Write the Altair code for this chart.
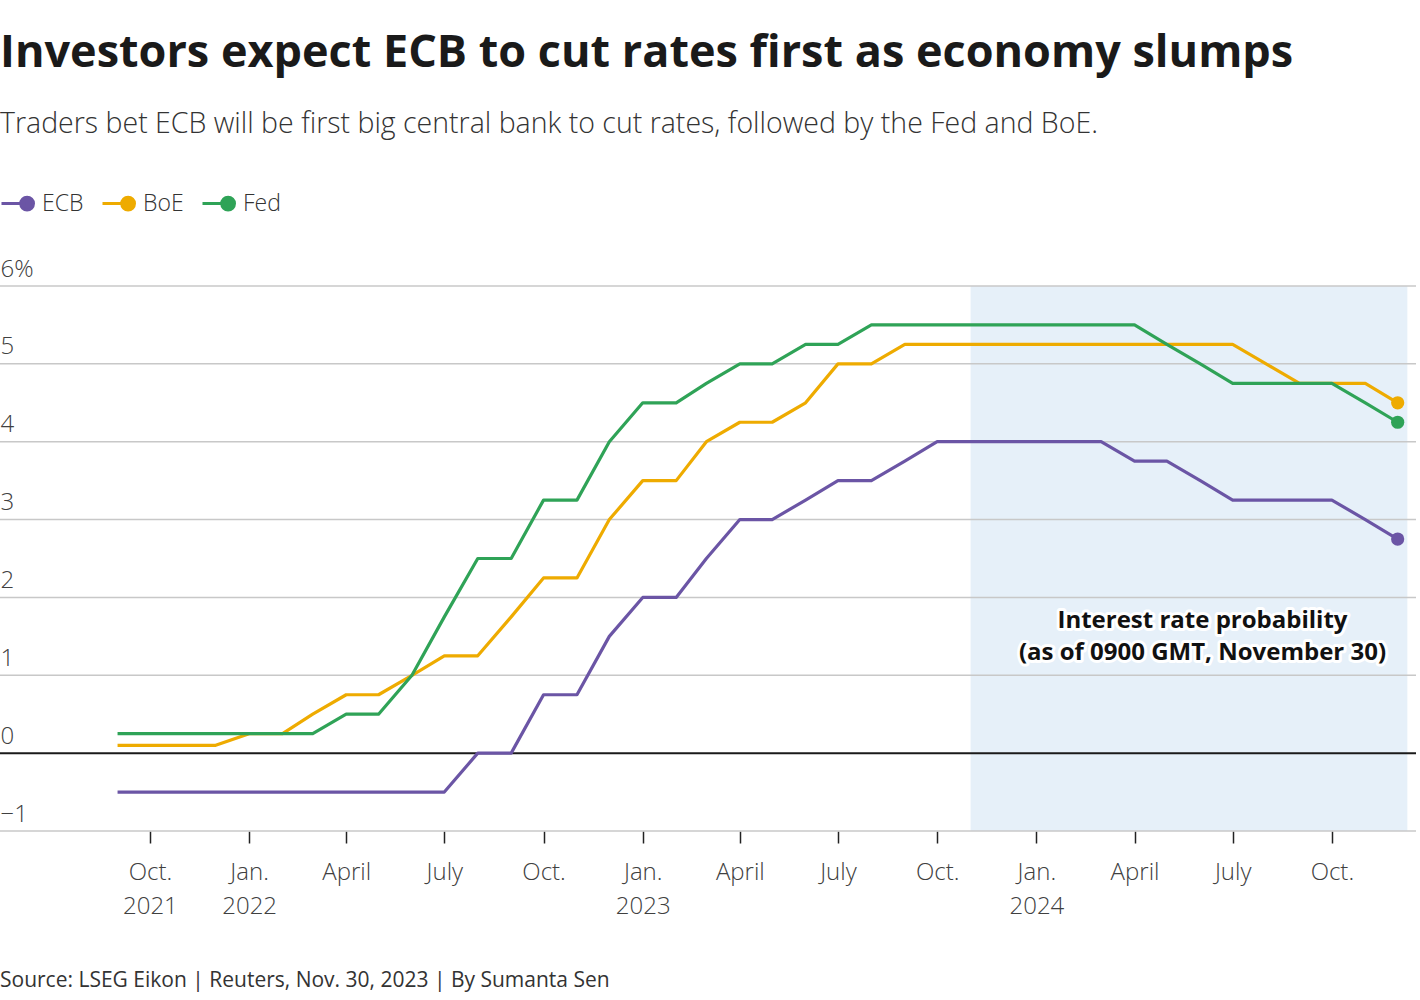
import altair as alt
import pandas as pd

# ---------------- data ----------------
months = [
    "2021-09-01", "2021-10-01", "2021-11-01", "2021-12-01",
    "2022-01-01", "2022-02-01", "2022-03-01", "2022-04-01", "2022-05-01", "2022-06-01",
    "2022-07-01", "2022-08-01", "2022-09-01", "2022-10-01", "2022-11-01", "2022-12-01",
    "2023-01-01", "2023-02-01", "2023-03-01", "2023-04-01", "2023-05-01", "2023-06-01",
    "2023-07-01", "2023-08-01", "2023-09-01", "2023-10-01", "2023-11-01", "2023-12-01",
    "2024-01-01", "2024-02-01", "2024-03-01", "2024-04-01", "2024-05-01", "2024-06-01",
    "2024-07-01", "2024-08-01", "2024-09-01", "2024-10-01", "2024-11-01", "2024-12-01",
]
ecb = [
    -0.5, -0.5, -0.5, -0.5,
    -0.5, -0.5, -0.5, -0.5, -0.5, -0.5,
    -0.5, 0.0, 0.0, 0.75, 0.75, 1.5,
    2.0, 2.0, 2.5, 3.0, 3.0, 3.25,
    3.5, 3.5, 3.75, 4.0, 4.0, 4.0,
    4.0, 4.0, 4.0, 3.75, 3.75, 3.5,
    3.25, 3.25, 3.25, 3.25, 3.0, 2.75,
]
boe = [
    0.1, 0.1, 0.1, 0.1,
    0.25, 0.25, 0.5, 0.75, 0.75, 1.0,
    1.25, 1.25, 1.75, 2.25, 2.25, 3.0,
    3.5, 3.5, 4.0, 4.25, 4.25, 4.5,
    5.0, 5.0, 5.25, 5.25, 5.25, 5.25,
    5.25, 5.25, 5.25, 5.25, 5.25, 5.25,
    5.25, 5.0, 4.75, 4.75, 4.75, 4.5,
]
fed = [
    0.25, 0.25, 0.25, 0.25,
    0.25, 0.25, 0.25, 0.5, 0.5, 1.0,
    1.75, 2.5, 2.5, 3.25, 3.25, 4.0,
    4.5, 4.5, 4.75, 5.0, 5.0, 5.25,
    5.25, 5.5, 5.5, 5.5, 5.5, 5.5,
    5.5, 5.5, 5.5, 5.5, 5.25, 5.0,
    4.75, 4.75, 4.75, 4.75, 4.5, 4.25,
]
banks = ["ECB", "BoE", "Fed"]
colors = ["#6b55a5", "#eeab00", "#2fa357"]

y_ticks = [-1, 0, 1, 2, 3, 4, 5, 6]
x_ticks = [
    "2021-10-01", "2022-01-01", "2022-04-01", "2022-07-01", "2022-10-01",
    "2023-01-01", "2023-04-01", "2023-07-01", "2023-10-01",
    "2024-01-01", "2024-04-01", "2024-07-01", "2024-10-01",
]
x_domain = ["2021-05-15", "2024-12-18"]
shade_start = ["2023-11-01"]
shade_end = ["2024-12-10"]

note_text = ["Interest rate probability\n(as of 0900 GMT, November 30)"]
note_date = ["2024-06-03"]
note_value = [1.70]

title = "Investors expect ECB to cut rates first as economy slumps"
subtitle = "Traders bet ECB will be first big central bank to cut rates, followed by the Fed and BoE."
source = ["Source: LSEG Eikon | Reuters, Nov. 30, 2023 | By Sumanta Sen"]

FONT = "Open Sans"
W, H = 1416, 545

# ---------------- frames ----------------
rows = []
for name, series in zip(banks, [ecb, boe, fed]):
    for m, v in zip(months, series):
        rows.append({"month": m, "bank": name, "rate": v})
df = pd.DataFrame(rows)
df_last = df[df["month"] == months[-1]]


def ms(s):
    return int(pd.Timestamp(s, tz="UTC").value // 10**6)


xscale = alt.Scale(type="utc", domain=[ms(d) for d in x_domain])
yscale = alt.Scale(domain=[-1, 6], nice=False, zero=False)
cscale = alt.Scale(domain=banks, range=colors)

x_label_expr = (
    "utcmonth(datum.value)==0 ? ['Jan.', utcFormat(datum.value,'%Y')] : "
    "utcmonth(datum.value)==3 ? 'April' : utcmonth(datum.value)==6 ? 'July' : "
    "utcyear(datum.value)==2021 ? ['Oct.', '2021'] : 'Oct.'"
)

x_axis = alt.Axis(
    values=[ms(d) for d in x_ticks], labelExpr=x_label_expr, title=None,
    grid=False, domain=False, ticks=True, tickSize=12, tickWidth=1.5,
    tickColor="#222222", labelPadding=17, labelFontSize=24, labelLineHeight=34,
    labelColor="#404040", labelFont=FONT, labelFontWeight=300,
    labelOverlap=False, labelFlush=False,
)
y_axis = alt.Axis(
    values=y_ticks, title=None, grid=False, domain=False, ticks=False, tickSize=0,
    labelExpr="datum.value == 6 ? '6%' : datum.value < 0 ? '\u2212' + abs(datum.value) : datum.value",
    labelAlign="left", labelBaseline="alphabetic", labelPadding=0, labelOffset=-10,
    labelFontSize=24, labelColor="#404040", labelFont=FONT, labelFontWeight=300,
)

legend_path = "M-1,0L0.5,0M0.2,0A0.4,0.4,0,1,1,1.0,0A0.4,0.4,0,1,1,0.2,0Z"
leg = alt.Legend(
    title=None, orient="none", legendX=0, legendY=-100, direction="horizontal",
    symbolType=legend_path, symbolSize=1024, symbolStrokeWidth=3,
    labelFontSize=23, labelFont=FONT, labelColor="#333333", labelFontWeight=300,
    labelOffset=7, columnPadding=12, symbolOpacity=1,
)

X = lambda f: alt.X(f, scale=xscale, axis=x_axis)
Y = lambda f: alt.Y(f, scale=yscale, axis=y_axis)

shade = alt.Chart(pd.DataFrame({"s": shade_start, "e": shade_end, "lo": [-1], "hi": [6]})).mark_rect(
    color="#e6f0f9"
).encode(x=X("s:T"), x2="e:T", y=Y("lo:Q"), y2="hi:Q")

grid = alt.Chart(pd.DataFrame({"v": [t for t in y_ticks if t != 0]})).mark_rule(
    color="#c8c8c8", strokeWidth=1.5
).encode(y=Y("v:Q"))

zero = alt.Chart(pd.DataFrame({"v": [0]})).mark_rule(color="#1a1a1a", strokeWidth=2).encode(
    y=Y("v:Q")
)

lines = alt.Chart(df).mark_line(strokeWidth=3.2, strokeJoin="round").encode(
    x=X("month:T"), y=Y("rate:Q"),
    color=alt.Color("bank:N", scale=cscale, legend=leg),
)

ends = alt.Chart(df_last).mark_point(filled=True, size=175, opacity=1, strokeWidth=1).encode(
    x=X("month:T"), y=Y("rate:Q"),
    color=alt.Color("bank:N", scale=cscale, legend=leg),
)

note_df = pd.DataFrame({"d": note_date, "v": note_value, "t": note_text})
note_halo = alt.Chart(note_df).mark_text(
    font=FONT, fontSize=24, fontWeight="bold", lineBreak="\n", lineHeight=32,
    align="center", baseline="middle", stroke="white", strokeWidth=6, strokeJoin="round",
    color="white",
).encode(x=X("d:T"), y=Y("v:Q"), text="t:N")
note = alt.Chart(note_df).mark_text(
    font=FONT, fontSize=24, fontWeight="bold", lineBreak="\n", lineHeight=32,
    align="center", baseline="middle", color="#111111",
).encode(x=X("d:T"), y=Y("v:Q"), text="t:N")

src = alt.Chart(pd.DataFrame({"t": source})).mark_text(
    font=FONT, fontSize=21, align="left", baseline="middle", color="#333333"
).encode(x=alt.value(0), y=alt.value(H + 150), text="t:N")

chart = alt.layer(shade, grid, zero, lines, ends, note_halo, note, src).properties(
    width=W, height=H, background="white",
    title=alt.TitleParams(
        text=title, subtitle=subtitle, anchor="start", frame="group",
        font=FONT, fontSize=45, fontWeight="bold", color="#1a1a1a",
        subtitleFont=FONT, subtitleFontSize=28.5, subtitleFontWeight=300,
        subtitleColor="#333333", subtitlePadding=34, offset=48,
    ),
    autosize=alt.AutoSizeParams(type="none"),
    padding={"left": 0, "top": 286, "right": 4, "bottom": 169},
).configure_view(stroke=None)

chart.save("out.html", embed_options={"renderer": "svg", "actions": False})
